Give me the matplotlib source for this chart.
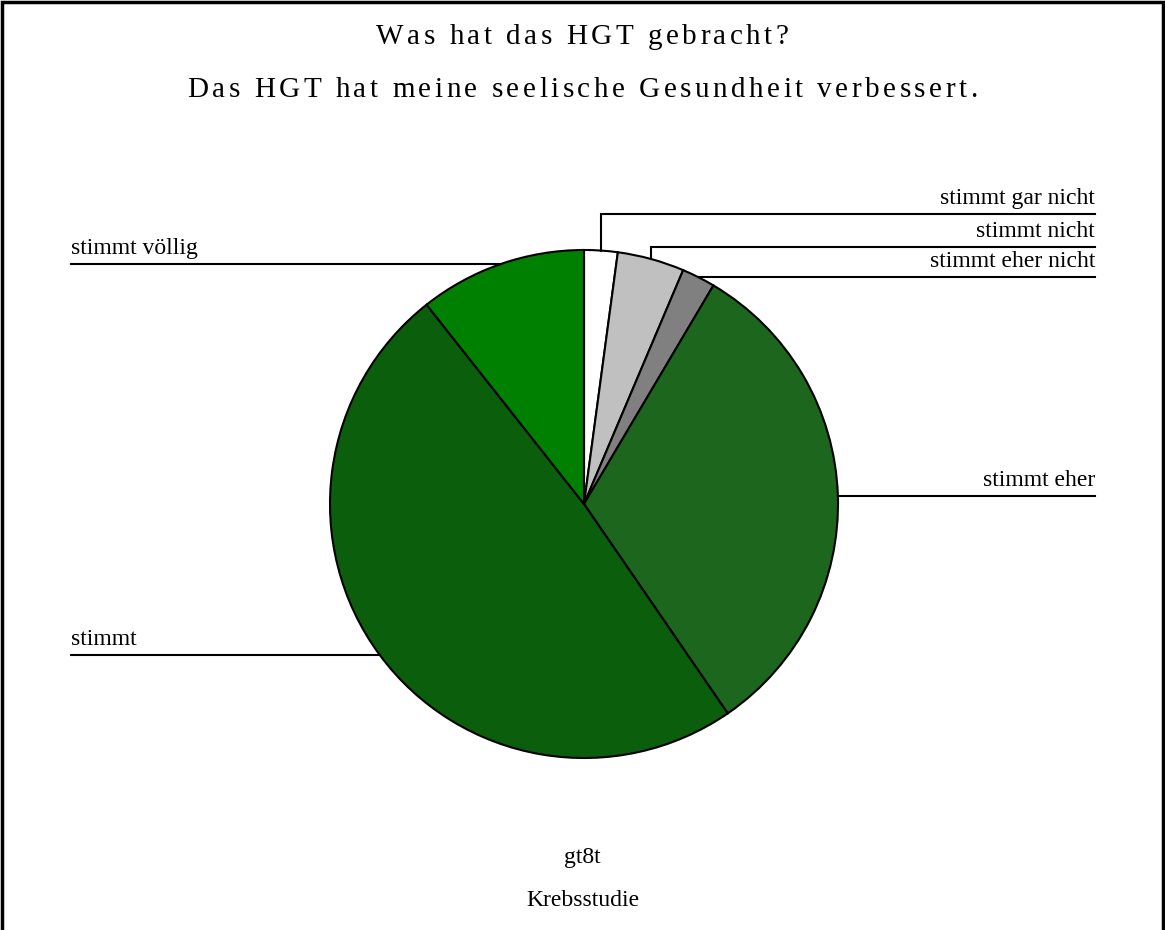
import matplotlib
matplotlib.use("Agg")
import matplotlib.pyplot as plt
from matplotlib.font_manager import FontProperties
import numpy as np

# Daten: Antworten auf gt8t
kategorien = ['stimmt gar nicht', 'stimmt nicht', 'stimmt eher nicht',
              'stimmt eher', 'stimmt', 'stimmt völlig']
anzahl = [1, 2, 1, 15, 23, 5]
farben = ['#ffffff', '#c0c0c0', '#808080', '#1d661d', '#0b5e0b', '#008000']

titel = 'Was hat das HGT gebracht?'
untertitel = 'Das HGT hat meine seelische Gesundheit verbessert.'
variable = 'gt8t'
studie = 'Krebsstudie'

W, H = 1165, 930
fig = plt.figure(figsize=(W / 100, H / 100), dpi=100)
ax = fig.add_axes([0, 0, 1, 1])
ax.set_aspect('equal')

schrift = 'Liberation Serif'
cx, cy, r = 584, H - 504, 254

wedges, _ = ax.pie(anzahl, colors=farben, startangle=90, counterclock=False,
                   center=(cx, cy), radius=r, frame=True,
                   wedgeprops=dict(edgecolor='black', linewidth=1.5))
ax.set_xlim(0, W)
ax.set_ylim(0, H)
ax.axis('off')

# Beschriftungen mit Führungslinien
rechts_x, links_x = 1095, 71
knick_y = {0: H - 214, 1: H - 247}
for i, w in enumerate(wedges):
    mitte = np.deg2rad((w.theta1 + w.theta2) / 2)
    px = cx + r * np.cos(mitte)
    py = cy + r * np.sin(mitte)
    if px > cx:
        if i in knick_y:
            ly = knick_y[i]
            ax.plot([px, px, rechts_x], [py, ly, ly], color='black', lw=1.5,
                    solid_joinstyle='miter')
        else:
            ly = py
            ax.plot([px, rechts_x], [ly, ly], color='black', lw=1.5)
        ax.text(rechts_x, ly + 5, kategorien[i], ha='right', va='bottom',
                family=schrift, fontsize=17)
    else:
        ly = py
        ax.plot([links_x, px], [ly, ly], color='black', lw=1.5)
        ax.text(links_x, ly + 5, kategorien[i], ha='left', va='bottom',
                family=schrift, fontsize=17)

# Titel mit Sperrsatz, Zeichen für Zeichen gesetzt
renderer = fig.canvas.get_renderer()


def gesperrt(s, y, size, extra):
    fp = FontProperties(family=schrift, size=size)
    breiten = [renderer.get_text_width_height_descent(c, fp, ismath=False)[0]
               for c in s]
    gesamt = sum(breiten) + extra * (len(s) - 1)
    x = W / 2 - gesamt / 2
    for c, b in zip(s, breiten):
        ax.text(x, y, c, ha='left', va='center', fontproperties=fp)
        x += b + extra


gesperrt(titel, H - 37, 21, 3.5)
gesperrt(untertitel, H - 90, 21, 3.5)

ax.text(W / 2, H - 857, variable, ha='center', va='center', family=schrift, fontsize=17)
ax.text(W / 2, H - 901, studie, ha='center', va='center', family=schrift, fontsize=17)

# Rahmen (unten offen)
ax.plot([2, 2, W - 2, W - 2], [0, H - 2, H - 2, 0], color='black', lw=2.5,
        solid_joinstyle='miter', clip_on=False)

fig.savefig('out.png', dpi=100, facecolor='white')
